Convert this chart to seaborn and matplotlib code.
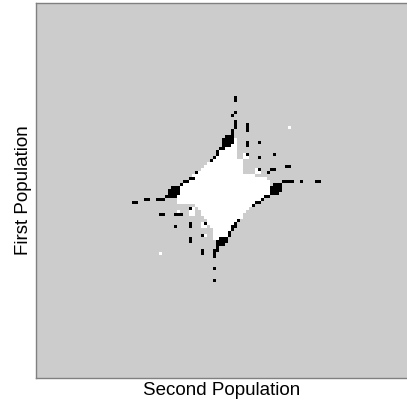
import numpy as np
import matplotlib
matplotlib.use('Agg')
import matplotlib.pyplot as plt
from matplotlib.colors import ListedColormap
import seaborn as sns

# grid size (cells) of the whole map and where the drawn patch starts
n_rows, n_cols = 125, 124
patch_row0, patch_col0 = 30, 30

# 0 = grey (outside), 1 = white basin, 2 = black
# runs: (row, first col, last col) inside the patch
white_runs = [
    (11, 54, 54), (15, 36, 36), (16, 36, 36), (17, 35, 36), (18, 33, 36),
    (19, 31, 36), (20, 31, 36), (20, 39, 40), (21, 30, 36), (21, 39, 40),
    (22, 28, 38), (23, 27, 38), (24, 26, 38), (25, 25, 38), (25, 43, 43),
    (26, 23, 38), (26, 43, 44), (27, 22, 42), (28, 21, 46), (29, 20, 47),
    (30, 19, 47), (31, 18, 47), (32, 18, 47), (33, 17, 47), (34, 17, 46),
    (35, 17, 44), (36, 17, 43), (37, 23, 41), (38, 24, 40), (38, 21, 22),
    (39, 25, 39), (39, 21, 22), (39, 17, 17), (40, 25, 38), (40, 21, 22),
    (41, 26, 38), (42, 27, 37), (43, 27, 35), (43, 25, 26), (44, 28, 34),
    (44, 25, 26), (45, 29, 34), (46, 29, 33), (47, 29, 33), (47, 26, 26),
    (48, 29, 30), (53, 11, 11),
]

black_runs = [
    (1, 36, 36), (2, 36, 36), (6, 36, 36), (7, 35, 35), (9, 36, 36),
    (10, 36, 36), (10, 40, 40), (11, 36, 36), (11, 40, 40), (12, 35, 35),
    (12, 40, 40), (13, 35, 35), (14, 33, 35), (15, 32, 35), (16, 32, 35),
    (16, 40, 40), (16, 44, 44), (17, 32, 34), (17, 40, 40), (18, 31, 32),
    (19, 30, 30), (20, 30, 30), (20, 40, 40), (20, 49, 49), (21, 29, 29),
    (21, 44, 44), (22, 28, 28), (24, 53, 54), (25, 48, 49), (25, 44, 44),
    (26, 47, 47), (26, 23, 23), (28, 21, 22), (29, 19, 20), (29, 52, 55),
    (29, 58, 58), (29, 63, 64), (30, 18, 18), (30, 49, 51), (31, 15, 17),
    (31, 48, 51), (32, 14, 17), (32, 48, 51), (33, 14, 17), (33, 48, 50),
    (34, 13, 16), (34, 46, 47), (35, 10, 12), (35, 6, 7), (35, 45, 45),
    (36, 2, 3), (36, 43, 44), (37, 42, 42), (38, 21, 21), (40, 11, 12),
    (40, 16, 18), (42, 37, 37), (43, 21, 21), (43, 26, 26), (43, 36, 36),
    (44, 16, 16), (44, 21, 21), (44, 35, 36), (45, 35, 35), (46, 34, 34),
    (47, 25, 25), (47, 34, 34), (48, 31, 33), (48, 21, 21), (49, 30, 33),
    (49, 21, 21), (50, 30, 32), (51, 30, 30), (52, 29, 30), (52, 25, 25),
    (53, 29, 29), (53, 25, 25), (54, 29, 29), (58, 29, 29), (62, 29, 29),
]

grid = np.zeros((n_rows, n_cols), dtype=int)
for r, c0, c1 in white_runs:
    grid[patch_row0 + r, patch_col0 + c0:patch_col0 + c1 + 1] = 1
for r, c0, c1 in black_runs:
    grid[patch_row0 + r, patch_col0 + c0:patch_col0 + c1 + 1] = 2

plt.rcParams['font.family'] = ['Liberation Sans', 'DejaVu Sans']

fig = plt.figure(figsize=(4.07, 4.03), dpi=100)
ax = fig.add_axes([36 / 407, 25 / 403, 372 / 407, 375 / 403])
sns.heatmap(grid,
            cmap=ListedColormap(['#cccccc', '#ffffff', '#000000']),
            vmin=0, vmax=2,
            cbar=False,
            xticklabels=False,
            yticklabels=False,
            ax=ax)
for s in ax.spines.values():
    s.set_visible(True)
    s.set_color('#808080')
    s.set_linewidth(1)
ax.set_xlabel('Second Population', fontsize=13.5, labelpad=3)
ax.set_ylabel('First Population', fontsize=13.5, labelpad=3)

fig.savefig('out.png', dpi=100)
